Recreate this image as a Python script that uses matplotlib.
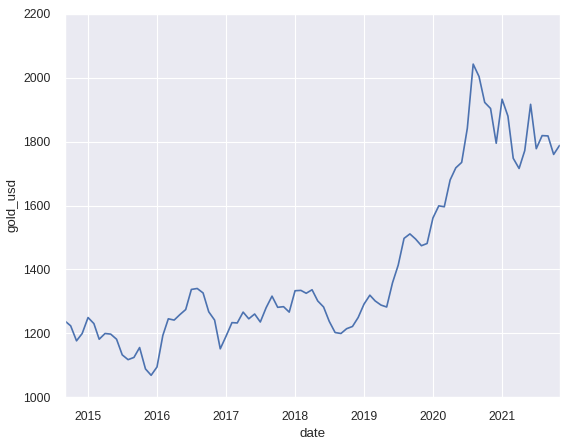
import numpy as np
import pandas as pd
import matplotlib
matplotlib.use("Agg")
import matplotlib.pyplot as plt
import matplotlib.dates as mdates
import seaborn as sns

# monthly gold price
dates = pd.date_range("2014-09-01", "2021-11-01", freq="MS")
gold_usd = [
    1238, 1223, 1176, 1199,                                              # 2014
    1249, 1230, 1181, 1199, 1197, 1181, 1132, 1117, 1124, 1155, 1088, 1068,  # 2015
    1094, 1193, 1245, 1241, 1258, 1274, 1337, 1340, 1326, 1267, 1241, 1151,  # 2016
    1191, 1233, 1232, 1266, 1245, 1260, 1235, 1280, 1316, 1281, 1283, 1266,  # 2017
    1333, 1334, 1325, 1336, 1301, 1282, 1237, 1202, 1199, 1214, 1221, 1249,  # 2018
    1291, 1319, 1301, 1288, 1282, 1358, 1413, 1497, 1511, 1495, 1474, 1481,  # 2019
    1561, 1599, 1596, 1680, 1718, 1735, 1842, 2043, 2004, 1923, 1904, 1795,  # 2020
    1933, 1880, 1748, 1716, 1772, 1917, 1778, 1819, 1818, 1760, 1788,        # 2021
]
y_ticks = [1000, 1200, 1400, 1600, 1800, 2000, 2200]

df = pd.DataFrame({"date": dates, "gold_usd": gold_usd})

sns.set_theme(style="darkgrid")
plt.rcParams['font.family'] = ['Liberation Sans', 'DejaVu Sans']
plt.rcParams['xtick.major.pad'] = 7
plt.rcParams['ytick.major.pad'] = 7

DPI = 80
fig = plt.figure(figsize=(567 / DPI, 446 / DPI), dpi=DPI)
ax = fig.add_axes([65 / 567, 1 - 397 / 446, (559.5 - 65) / 567, (397 - 14) / 446])
sns.lineplot(data=df, x="date", y="gold_usd", ax=ax, color="#4c72b0", linewidth=1.5)

ax.set_xlim(dates[0], dates[-1])
ax.set_ylim(1000, 2200)
ax.set_yticks(y_ticks)
ax.xaxis.set_major_locator(mdates.YearLocator())
ax.xaxis.set_major_formatter(mdates.DateFormatter('%Y'))
ax.tick_params(labelsize=11)
ax.set_xlabel('date', fontsize=12)
ax.set_ylabel('gold_usd', fontsize=12)

plt.savefig('out.png', dpi=DPI)
